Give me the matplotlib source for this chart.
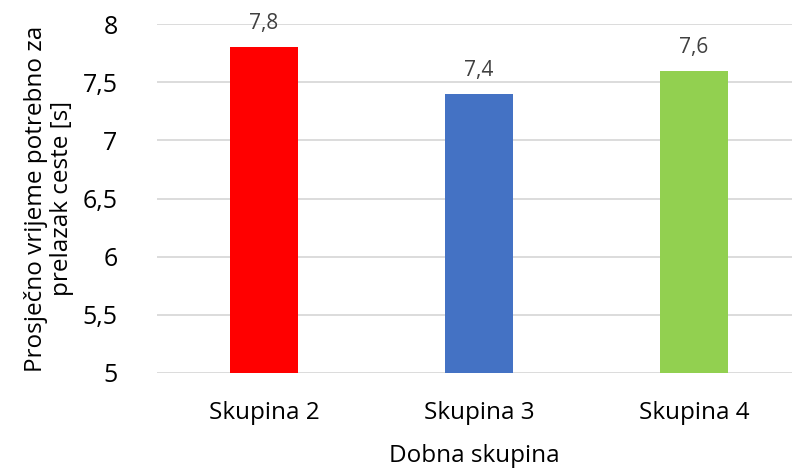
import matplotlib
matplotlib.use("Agg")
import matplotlib.pyplot as plt

categories = ["Skupina 2", "Skupina 3", "Skupina 4"]
values = [7.8, 7.4, 7.6]
labels = ["7,8", "7,4", "7,6"]
colors = ["#FF0000", "#4472C4", "#92D050"]
yticks = [5, 5.5, 6, 6.5, 7, 7.5, 8]
ytick_labels = ["5", "5,5", "6", "6,5", "7", "7,5", "8"]

plt.rcParams['font.family'] = ['Open Sans', 'DejaVu Sans']

W, H = 792, 468
fig = plt.figure(figsize=(W/100, H/100), dpi=100)
left, right = 156.5, 792
top, bottom = 24, 373
ax = fig.add_axes([left/W, 1 - bottom/H, (right-left)/W, (bottom-top)/H])

x = list(range(len(categories)))
ax.bar(x, values, width=68/215, color=colors, zorder=3)
for xi, v, lab in zip(x, values, labels):
    ax.text(xi, v + 0.11, lab, ha='center', va='bottom', fontsize=15, color='#404040')

ax.set_ylim(5, 8)
ax.set_xlim(-0.5, 2.5 - 9.5/215)
ax.set_yticks(yticks)
ax.set_yticklabels(ytick_labels, fontsize=18)
ax.set_xticks(x)
ax.set_xticklabels(categories, fontsize=17.5)
ax.tick_params(axis='x', length=0, pad=20)
ax.tick_params(axis='y', length=0, pad=28)
ax.grid(axis='y', color='#D9D9D9', linewidth=1.3, zorder=0)
for s in ax.spines.values():
    s.set_visible(False)

ax.set_xlabel("Dobna skupina", fontsize=17.5, labelpad=14)
ax.set_ylabel("Prosječno vrijeme potrebno za\nprelazak ceste [s]", fontsize=17.5, labelpad=6, linespacing=1.15)

fig.savefig("out.png", dpi=100)
